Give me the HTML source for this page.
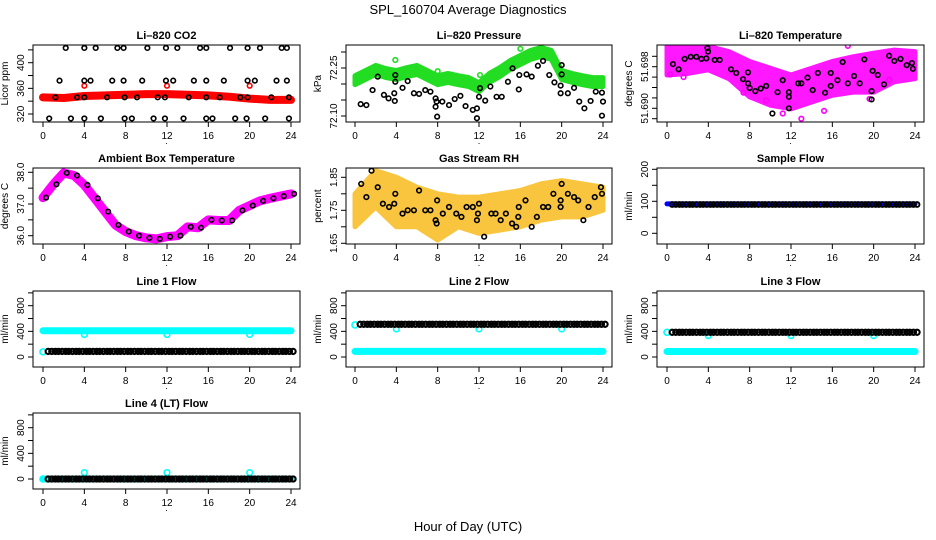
<!DOCTYPE html>
<html><head><meta charset="utf-8"><style>
html,body{margin:0;padding:0;background:#fff;}
svg{display:block;font-family:"Liberation Sans",sans-serif;}
</style></head><body>
<svg id="c" width="936" height="540" viewBox="0 0 936 540">
<text x="468" y="14" text-anchor="middle" font-size="13">SPL_160704  Average Diagnostics</text>
<text x="468" y="531" text-anchor="middle" font-size="13">Hour of Day (UTC)</text>
</svg>
<script>
// ---- data ----
const xTicks=[0,4,8,12,16,20,24];
const hours=[0,1,2,3,4,5,6,7,8,9,10,11,12,13,14,15,16,17,18,19,20,21,22,23,24];
const evenHours=[0,2,4,6,8,10,12,14,16,18,20,22,24];
// CO2
const co2RedH=[0,2,4,6,8,10,12,14,16,18,20,22,24];
const co2Red=[346,345,348,349,350,351,351,350,349,347,344,342,342];
const co2RedOut=[[4,364],[12,364],[20,364]];
const co2Top=[2.2,4.0,5.1,7.2,7.8,10.1,11.9,13.0,15.2,15.8,18.1,19.8,21.0,23.1,23.6];
const co2Mid=[1.6,4.0,4.6,6.7,7.8,9.6,11.9,12.6,14.6,15.8,17.5,19.8,20.5,22.6,23.6];
const co2Bot=[0.6,2.7,4.0,5.6,7.9,8.6,10.7,11.8,13.6,15.8,16.4,18.6,19.7,21.5,23.8];
const co2Band=[1.2,3.3,4.0,6.2,7.9,9.1,11.1,11.8,14.1,15.8,17.1,19.1,19.8,22.1,23.8];
// Pressure
const presGreen=[72.212,72.228,72.244,72.234,72.228,72.237,72.244,72.228,72.212,72.219,72.212,72.206,72.19,72.219,72.237,72.259,72.275,72.291,72.30,72.291,72.228,72.219,72.212,72.206,72.206];
const presGreenOut=[[3.9,72.275],[8.0,72.24],[12.1,72.228],[16.0,72.31]];
const presBlack=[[0.55,72.137],[1.1,72.134],[1.7,72.181],[2.2,72.223],[2.8,72.166],[3.25,72.155],[3.8,72.171],[3.85,72.147],[3.9,72.207],[3.9,72.228],[4.6,72.188],[5.1,72.209],[5.7,72.171],[6.2,72.169],[6.8,72.181],[7.3,72.176],[7.8,72.155],[7.8,72.129],[7.9,72.145],[7.95,72.098],[8.45,72.145],[9.1,72.134],[9.65,72.153],[10.2,72.163],[10.7,72.131],[11.4,72.119],[11.8,72.124],[11.8,72.093],[12.0,72.16],[12.1,72.187],[12.6,72.148],[13.1,72.192],[13.7,72.16],[14.2,72.16],[14.8,72.207],[15.25,72.249],[15.9,72.228],[15.85,72.183],[16.6,72.23],[17.1,72.223],[17.7,72.257],[18.2,72.272],[18.8,72.228],[19.3,72.205],[19.9,72.195],[19.9,72.171],[20.0,72.259],[20.0,72.23],[20.6,72.171],[21.2,72.188],[21.7,72.145],[22.2,72.124],[22.8,72.147],[23.3,72.176],[23.9,72.173],[23.9,72.101],[24.0,72.145]];
// Li-820 temperature
const tempHi=[51.7022,51.7019,51.7019,51.7009,51.6990,51.6977,51.6964,51.6977,51.6990,51.6999,51.7006,51.7012,51.7009];
const tempLo=[51.6964,51.6967,51.6974,51.6957,51.6922,51.6906,51.6899,51.6912,51.6925,51.6931,51.6931,51.6951,51.6957];
const tempMagOut=[[0.3,51.6965],[1.6,51.6960],[7.4,51.6930],[9.6,51.6915],[11.2,51.6890],[13.0,51.6880],[15.2,51.6895],[17.5,51.7020],[19.6,51.6918],[21.5,51.6955]];
const tempBlack=[[0.58,51.6985],[1.13,51.6975],[1.71,51.6995],[2.29,51.6999],[2.84,51.6999],[3.33,51.6995],[3.81,51.6996],[3.91,51.7016],[3.97,51.7009],[4.62,51.6993],[5.1,51.6993],[6.2,51.6975],[6.7,51.6968],[7.36,51.6956],[7.84,51.6969],[7.84,51.6948],[8.0,51.6939],[8.55,51.6933],[9.07,51.6938],[9.6,51.6943],[10.2,51.689],[10.7,51.6931],[11.2,51.6954],[11.8,51.6931],[11.8,51.6922],[11.8,51.69],[12.7,51.6948],[13.0,51.6948],[13.6,51.6959],[14.1,51.6935],[14.6,51.6968],[15.3,51.693],[15.85,51.6943],[15.85,51.6968],[16.5,51.6954],[17.0,51.6989],[17.5,51.6948],[18.1,51.6962],[18.65,51.6948],[19.1,51.6994],[19.8,51.6917],[19.8,51.6933],[19.9,51.6972],[20.4,51.6964],[21.0,51.6946],[21.5,51.7001],[22.0,51.6991],[22.6,51.6995],[23.2,51.6983],[23.7,51.6987],[23.8,51.6976]];
// Ambient box temperature
const ambT=[37.2,37.62,37.98,37.9,37.6,37.18,36.76,36.34,36.13,36.0,35.93,35.9,35.97,36.0,36.28,36.25,36.5,36.48,36.48,36.8,36.95,37.1,37.18,37.25,37.32];
// Gas stream RH
const rhHi=[1.80,1.87,1.85,1.82,1.80,1.79,1.79,1.80,1.81,1.83,1.84,1.83,1.82];
const rhLo=[1.70,1.76,1.70,1.70,1.66,1.70,1.68,1.69,1.70,1.72,1.73,1.73,1.75];
const rhBlack=[[0.6,1.83],[1.1,1.79],[1.6,1.87],[2.2,1.82],[2.7,1.77],[3.3,1.76],[3.8,1.77],[3.9,1.80],[4.6,1.74],[5.1,1.75],[5.7,1.75],[6.2,1.81],[6.8,1.75],[7.3,1.75],[7.8,1.72],[7.9,1.71],[7.95,1.78],[8.5,1.74],[9.1,1.76],[9.8,1.74],[10.3,1.73],[10.8,1.76],[11.4,1.76],[11.8,1.72],[11.9,1.74],[12.0,1.77],[12.5,1.67],[13.2,1.74],[13.6,1.74],[14.1,1.72],[14.6,1.74],[15.2,1.71],[15.6,1.70],[15.8,1.73],[15.85,1.76],[16.5,1.78],[17.1,1.70],[17.6,1.73],[18.2,1.76],[18.7,1.76],[19.2,1.80],[19.9,1.78],[19.9,1.76],[20.0,1.83],[20.6,1.80],[21.2,1.79],[21.6,1.78],[22.1,1.72],[22.6,1.76],[23.2,1.79],[23.8,1.82],[23.9,1.80]];
// Flows
const sampleBlue=92, sampleBlack=90;
const line1Cyan=410, line1Dip=350, line1Black=87, line1Start=80;
const line2Cyan=87, line2Dip=437, line2Black=510, line2Start=500;
const line3Cyan=85, line3Dip=333, line3Black=385, line3Start=385;
const line4Cyan=0, line4Dip=100, line4Black=0, line4Start=0;
const dipHours=[4,12,20];

// ---- layout ----
const svg=document.getElementById('c');
const NS='http://www.w3.org/2000/svg';
const cols=[{L:33,R:300,x0:43},{L:346,R:612,x0:355},{L:657,R:924,x0:667}];
const rows=[{T:45,B:122},{T:168,B:244},{T:291,B:367},{T:413,B:489}];
function el(tag,attrs,parent){const e=document.createElementNS(NS,tag);for(const k in attrs)e.setAttribute(k,attrs[k]);(parent||svg).appendChild(e);return e;}

function panel(ci,ri,title,ylab,v1,p1,v2,p2,ticks,labels,name){
  const c=cols[ci],r=rows[ri];
  const g=el('g',{});
  
  
  const sx=h=>c.x0+h*(248/24);
  const sy=v=>p1+(v-v1)*(p2-p1)/(v2-v1);
  const clipId='cl'+ci+ri;
  const cp=el('clipPath',{id:clipId},g);el('rect',{x:c.L,y:r.T,width:c.R-c.L,height:r.B-r.T},cp);
  const data=el('g',{'clip-path':'url(#'+clipId+')'},g);
  
  
  const t=el('text',{x:(c.L+c.R)/2,y:r.T-6,'text-anchor':'middle','font-size':'11','font-weight':'bold'},g);t.textContent=title;
  
  
  const box=el('rect',{x:c.L,y:r.T,width:c.R-c.L,height:r.B-r.T,fill:'none',stroke:'#000','stroke-width':1},g);
  
  
  el('line',{x1:sx(0),x2:sx(24),y1:r.B,y2:r.B,stroke:'#000'},g);
  xTicks.forEach(h=>{el('line',{x1:sx(h),x2:sx(h),y1:r.B,y2:r.B+5,stroke:'#000'},g);
    const tx=el('text',{x:sx(h),y:r.B+17,'text-anchor':'middle','font-size':'10'},g);tx.textContent=h;
    
    });
  el('line',{x1:c.L,x2:c.L,y1:sy(ticks[0]),y2:sy(ticks[ticks.length-1]),stroke:'#000'},g);
  ticks.forEach(v=>el('line',{x1:c.L-5,x2:c.L,y1:sy(v),y2:sy(v),stroke:'#000'},g));
  labels.forEach(([v,s])=>{const ty=sy(v);const tx=el('text',{x:c.L-9,y:ty,'text-anchor':'middle','font-size':'10',transform:`rotate(-90 ${c.L-9} ${ty})`},g);tx.textContent=s;
    
    });
  const yl=(r.T+r.B)/2;
  const yt=el('text',{x:c.L-25,y:yl,'text-anchor':'middle','font-size':'10',transform:`rotate(-90 ${c.L-25} ${yl})`},g);yt.textContent=ylab;
  
  
  el('text',{x:(c.L+c.R)/2,y:r.B+22,'text-anchor':'middle','font-size':'9'},g).textContent='.';
  return {sx,sy,g:data};
}
function circ(P,h,v,col,rad,sw){const e=el('circle',{cx:P.sx(h),cy:P.sy(v),r:rad||2.3,fill:'none',stroke:col,'stroke-width':sw||1.6},P.g);
  
  return e;}
function band(P,hs,hi,lo,col,op,name){let d='M'+hs.map((h,i)=>P.sx(h)+','+P.sy(hi[i])).join('L');
  for(let i=hs.length-1;i>=0;i--)d+='L'+P.sx(hs[i])+','+P.sy(lo[i]);d+='Z';
  const e=el('path',{d,fill:col,stroke:col,'stroke-width':5,'stroke-linejoin':'round',opacity:op||1},P.g);
  
  }
function thickLine(P,hs,vs,col,w,name){const e=el('polyline',{points:hs.map((h,i)=>P.sx(h)+','+P.sy(vs[i])).join(' '),fill:'none',stroke:col,'stroke-width':w,'stroke-linejoin':'round','stroke-linecap':'round'},P.g);
  
  }

// CO2
let P=panel(0,0,'Li–820 CO2','Licor ppm',320,114,400,62.7,[320,340,360,380,400,420],[[320,'320'],[360,'360'],[400,'400']],'co2');
thickLine(P,co2RedH,co2Red,'#ff0000',8,'co2-red-band');
co2RedOut.forEach(([h,v])=>circ(P,h,v,'#ff0000'));
co2Top.forEach(h=>circ(P,h,423,'#000'));
co2Mid.forEach(h=>circ(P,h,372,'#000'));
co2Bot.forEach(h=>circ(P,h,313,'#000'));
co2Band.forEach(h=>circ(P,h,346,'#000'));
// Pressure
P=panel(1,0,'Li–820 Pressure','kPa',72.25,68,72.10,116,[72.10,72.15,72.20,72.25,72.30],[[72.25,'72.25'],[72.10,'72.10']],'pressure');
band(P,hours,presGreen.map(v=>v+0.014),presGreen.map(v=>v-0.014),'#22dd22',1,'pressure-green-band');
presGreenOut.forEach(([h,v])=>circ(P,h,v,'#22dd22'));
presBlack.forEach(([h,v])=>circ(P,h,v,'#000'));
// Li-820 temperature
P=panel(2,0,'Li–820 Temperature','degrees C',51.698,66.7,51.690,108.3,[51.688,51.690,51.692,51.694,51.696,51.698,51.700],[[51.690,'51.690'],[51.698,'51.698']],'li820-temp');
band(P,evenHours,tempHi,tempLo,'#ff00ff',0.9,'temp-magenta-band');
tempMagOut.forEach(([h,v])=>circ(P,h,v,'#ff00ff'));
tempBlack.forEach(([h,v])=>circ(P,h,v,'#000'));
// Ambient
P=panel(0,1,'Ambient Box Temperature','degrees C',36,235.7,38,172.3,[36,36.5,37,37.5,38],[[36,'36.0'],[37,'37.0'],[38,'38.0']],'ambient-temp');
thickLine(P,hours,ambT,'#ff00ff',9,'ambient-magenta-line');
hours.forEach((h,i)=>circ(P,h+0.3,ambT[i],'#000'));
// RH
P=panel(1,1,'Gas Stream RH','percent',1.65,243.3,1.85,177.3,[1.65,1.70,1.75,1.80,1.85],[[1.65,'1.65'],[1.75,'1.75'],[1.85,'1.85']],'gas-rh');
band(P,evenHours,rhHi,rhLo,'#f9bf2a',0.9,'rh-orange-band');
rhBlack.forEach(([h,v])=>circ(P,h,v,'#000'));
// Sample flow
P=panel(2,1,'Sample Flow','ml/min',0,233.3,200,169.3,[0,50,100,150,200],[[0,'0'],[100,'100'],[200,'200']],'sample-flow');
thickLine(P,[0,24],[sampleBlue,sampleBlue],'#0000ff',5,'sample-blue-band');
hours.forEach(h=>{if(h<24){[0.5,0.85,1.2].forEach(o=>circ(P,h+o,sampleBlack,'#000',2.4,1.9));}});
// Line flows
const flowTicks=[0,200,400,600,800,1000],flowLabels=[[0,'0'],[400,'400'],[800,'800']];
function flow(ci,ri,title,cy,dip,bk,st,name){
  const r=rows[ri];const P=panel(ci,ri,title,'ml/min',0,r.B-10,800,r.B-61.3,flowTicks,flowLabels,name);
  thickLine(P,[0,24],[cy,cy],'#00ffff',7,name+'-cyan');
  circ(P,0,st,'#00ffff',3);
  dipHours.forEach(h=>circ(P,h,dip,'#00ffff',2.8));
  hours.forEach(h=>{if(h<24)[0.5,0.85,1.2].forEach(o=>circ(P,h+o,bk,'#000',2.6,2.1));});
}
flow(0,2,'Line 1 Flow',line1Cyan,line1Dip,line1Black,line1Start,'line1-flow');
flow(1,2,'Line 2 Flow',line2Cyan,line2Dip,line2Black,line2Start,'line2-flow');
flow(2,2,'Line 3 Flow',line3Cyan,line3Dip,line3Black,line3Start,'line3-flow');
flow(0,3,'Line 4 (LT) Flow',line4Cyan,line4Dip,line4Black,line4Start,'line4-flow');
</script>
</body></html>
